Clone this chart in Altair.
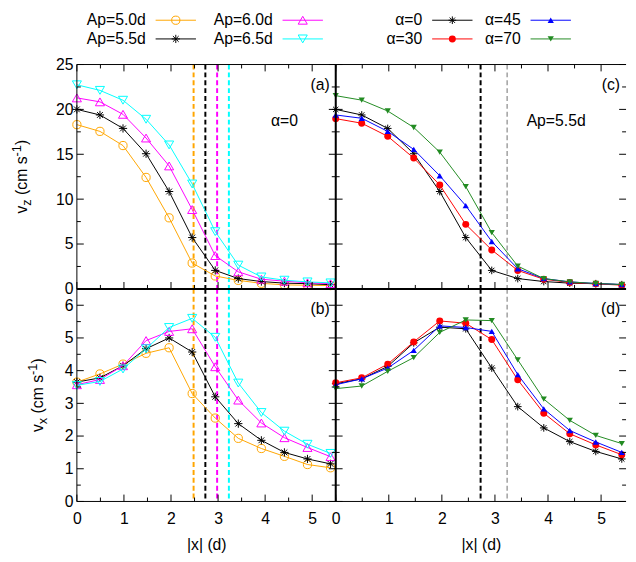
import altair as alt
import pandas as pd

FONT = "Liberation Sans"

# ---------------- data ----------------
x_pos = [0.0, 0.49, 0.98, 1.47, 1.96, 2.45, 2.94, 3.43, 3.92, 4.41, 4.90, 5.39]

ap_names = ["Ap=5.0d", "Ap=5.5d", "Ap=6.0d", "Ap=6.5d"]
ap_colors = ["#ffa500", "#000000", "#ff00ff", "#00ffff"]
ap_vz = [
    [18.30, 17.55, 15.97, 12.42, 7.92, 2.88, 1.44, 0.95, 0.62, 0.45, 0.40, 0.37],
    [20.00, 19.38, 17.88, 15.06, 10.85, 5.72, 2.06, 1.15, 0.82, 0.64, 0.58, 0.47],
    [21.28, 20.84, 19.45, 16.81, 13.70, 8.84, 3.71, 1.90, 1.08, 0.86, 0.68, 0.58],
    [22.74, 22.12, 21.02, 18.90, 16.04, 11.69, 6.38, 2.65, 1.33, 0.97, 0.78, 0.67],
]
ap_vx = [
    [3.65, 3.90, 4.20, 4.53, 4.70, 3.30, 2.55, 1.93, 1.62, 1.38, 1.13, 1.03],
    [3.65, 3.78, 4.15, 4.67, 5.00, 4.57, 3.20, 2.38, 1.87, 1.50, 1.30, 1.15],
    [3.57, 3.73, 4.15, 4.92, 5.20, 5.28, 4.12, 3.10, 2.40, 1.95, 1.65, 1.37],
    [3.55, 3.67, 4.05, 4.67, 5.32, 5.60, 5.02, 3.62, 2.72, 2.15, 1.75, 1.47],
]
ap_edges = [2.48, 2.73, 2.98, 3.23]

alpha_names = ["α=0", "α=30", "α=45", "α=70"]
alpha_colors = ["#000000", "#ff0000", "#0000ff", "#228b22"]
alpha_vz = [
    [20.00, 19.38, 17.88, 15.06, 10.85, 5.72, 2.06, 1.15, 0.82, 0.64, 0.58, 0.47],
    [18.97, 18.46, 17.00, 14.58, 11.58, 7.19, 4.34, 2.06, 1.08, 0.71, 0.56, 0.42],
    [19.38, 19.01, 17.55, 15.54, 12.61, 9.28, 5.28, 2.25, 1.15, 0.78, 0.60, 0.49],
    [21.53, 21.03, 19.82, 17.99, 15.24, 11.40, 6.27, 2.54, 1.15, 0.78, 0.60, 0.49],
]
alpha_vx = [
    [3.60, 3.75, 4.13, 4.85, 5.33, 5.28, 4.08, 2.90, 2.25, 1.83, 1.53, 1.30],
    [3.63, 3.78, 4.20, 4.88, 5.52, 5.45, 4.95, 3.72, 2.70, 2.07, 1.73, 1.43],
    [3.57, 3.75, 4.08, 4.62, 5.37, 5.32, 5.20, 3.88, 2.83, 2.17, 1.82, 1.50],
    [3.45, 3.53, 3.98, 4.40, 5.17, 5.55, 5.53, 4.33, 3.13, 2.48, 2.02, 1.77],
]
alpha_edges = [2.73, 3.23]
alpha_edge_colors = ["#000000", "#a0a0a0"]

x_labels = [0, 1, 2, 3, 4, 5]
x_minor = [0.5, 1.5, 2.5, 3.5, 4.5, 5.5]
vz_major = [0, 5, 10, 15, 20, 25]
vz_minor = [2.5, 7.5, 12.5, 17.5, 22.5]
vx_major = [0, 1, 2, 3, 4, 5, 6]
vx_minor = [0.5, 1.5, 2.5, 3.5, 4.5, 5.5, 6.5]

# ---------------- styles / layout ----------------
STAR = "M-1,0L1,0M0,-1L0,1M-0.7,-0.7L0.7,0.7M-0.7,0.7L0.7,-0.7"
ap_markers = [("circle", False, 70), (STAR, False, 70), ("triangle-up", False, 85), ("triangle-down", False, 85)]
alpha_markers = [(STAR, False, 60), ("circle", True, 50), ("triangle-up", True, 40), ("triangle-down", True, 40)]

LW, RW, H1, H2 = 263, 295, 228, 216
one = pd.DataFrame({"k": [0]})

W_EM = {"v": .5, "z": .5, "x": .5, " ": .278, "(": .333, ")": .333, "c": .5,
        "m": .833, "s": .5, "-": .333, "1": .556}


def text_w(t, size):
    return sum(W_EM.get(ch, .55) for ch in t) * size


def ytitle_layers(sub, base_x, H):
    pieces = [("v", 16, 0, 0), (sub, 13, 4, 0), ("(cm s", 16, 0, 4.4), ("-1", 13, -6, 0), (")", 16, 0, 0)]
    total = sum(text_w(t, s) + g for t, s, _, g in pieces)
    pos = -total / 2
    out = []
    for t, s, shift, gap in pieces:
        pos += gap
        out.append(alt.Chart(one).mark_text(text=t, fontSize=s, angle=270, align="left",
                                            baseline="alphabetic", dx=pos, dy=shift,
                                            font=FONT, color="black")
                   .encode(x=alt.value(base_x), y=alt.value(H / 2)))
        pos += text_w(t, s)
    return out


def panel(W, H, xdom, ydom, vals_list, colors, markers, edges, edge_colors, edge_widths,
          ymaj, ymin, bottom_axis, top_ticks, show_ylabels, frame_sides, tag,
          note=None, note_x=None, legend=None, names=None, ytitle=None):
    xs = alt.Scale(domain=xdom, nice=False, zero=False)
    ys = alt.Scale(domain=ydom, nice=False, zero=False)
    if bottom_axis:
        xaxis = alt.Axis(values=x_labels, ticks=False, domain=False, grid=False, labelFontSize=16,
                         labelPadding=9, labelFlush=False, labelOverlap=False, title="|x| (d)",
                         titleFontSize=16, titleFontWeight="normal", titlePadding=11)
    else:
        xaxis = None
    if show_ylabels:
        yaxis = alt.Axis(values=ymaj, ticks=False, domain=False, grid=False, labelFontSize=16,
                         labelPadding=4, labelFlush=False, labelOverlap=False, title=None)
    else:
        yaxis = None

    def X(f):
        return alt.X(f, scale=xs, axis=xaxis)

    def Y(f):
        return alt.Y(f, scale=ys, axis=yaxis)

    layers = []
    # dashed vertical lines
    for e, c, w in zip(edges, edge_colors, edge_widths):
        layers.append(alt.Chart(pd.DataFrame({"e": [e]}))
                      .mark_rule(color=c, strokeWidth=w, strokeDash=[5, 3]).encode(x=X("e:Q")))
    # series
    for vals, c, (shape, filled, size) in zip(vals_list, colors, markers):
        df = pd.DataFrame({"x": x_pos, "y": vals})
        base = alt.Chart(df)
        layers.append(base.mark_line(color=c, strokeWidth=1).encode(x=X("x:Q"), y=Y("y:Q")))
        layers.append(base.mark_point(shape=shape, filled=filled, size=size, color=c,
                                      strokeWidth=1, opacity=1).encode(x=X("x:Q"), y=Y("y:Q")))
    # inward ticks
    xmax = xdom[1]
    for vals, ln in ((x_labels, 7), (x_minor, 4)):
        v = pd.DataFrame({"t": [t for t in vals if t <= xmax]})
        layers.append(alt.Chart(v).mark_rule(color="black", strokeWidth=1)
                      .encode(x=X("t:Q"), y=alt.value(H), y2=alt.value(H - ln)))
        if top_ticks:
            layers.append(alt.Chart(v).mark_rule(color="black", strokeWidth=1)
                          .encode(x=X("t:Q"), y=alt.value(0), y2=alt.value(ln)))
    for vals, ln in ((ymaj, 7), (ymin, 4)):
        v = pd.DataFrame({"t": vals})
        layers.append(alt.Chart(v).mark_rule(color="black", strokeWidth=1)
                      .encode(y=Y("t:Q"), x=alt.value(0), x2=alt.value(ln)))
        layers.append(alt.Chart(v).mark_rule(color="black", strokeWidth=1)
                      .encode(y=Y("t:Q"), x=alt.value(W), x2=alt.value(W - ln)))
    # frame
    for side, sw in frame_sides:
        if side == "top":
            enc = dict(x=alt.value(0), x2=alt.value(W), y=alt.value(0))
        elif side == "bottom":
            enc = dict(x=alt.value(0), x2=alt.value(W), y=alt.value(H))
        elif side == "left":
            enc = dict(y=alt.value(0), y2=alt.value(H), x=alt.value(0))
        else:
            enc = dict(y=alt.value(0), y2=alt.value(H), x=alt.value(W))
        layers.append(alt.Chart(one).mark_rule(color="black", strokeWidth=sw).encode(**enc))
    # panel tag and note
    layers.append(alt.Chart(one).mark_text(text=tag, align="right", baseline="middle", fontSize=16,
                                           font=FONT, color="black")
                  .encode(x=alt.value(W - 6), y=alt.value(21)))
    if note:
        layers.append(alt.Chart(one).mark_text(text=note, align="center", baseline="middle",
                                               fontSize=16, font=FONT, color="black")
                      .encode(x=alt.value(note_x), y=alt.value(57)))
    # legend (label left of sample, two columns)
    if legend:
        rows_y = [-45, -26]
        for i, (name, c, (shape, filled, size)) in enumerate(zip(names, colors, markers)):
            cx = legend[i // 2]
            ry = rows_y[i % 2]
            layers.append(alt.Chart(one).mark_text(text=name, align="right", baseline="middle",
                                                   fontSize=16, font=FONT, color="black")
                          .encode(x=alt.value(cx), y=alt.value(ry)))
            layers.append(alt.Chart(one).mark_rule(color=c, strokeWidth=1)
                          .encode(x=alt.value(cx + 10), x2=alt.value(cx + 51), y=alt.value(ry)))
            layers.append(alt.Chart(one).mark_point(shape=shape, filled=filled, size=size, color=c,
                                                    strokeWidth=1, opacity=1)
                          .encode(x=alt.value(cx + 30.5), y=alt.value(ry)))
    if ytitle:
        layers += ytitle_layers(ytitle[0], ytitle[1], H)
    return alt.layer(*layers).properties(width=W, height=H)


pa = panel(LW, H1, [0, 5.5], [0, 25], ap_vz, ap_colors, ap_markers, ap_edges, ap_colors, [2] * 4,
           vz_major, vz_minor, False, True, True,
           [("top", 1), ("left", 1), ("right", 1), ("bottom", 1)], "(a)",
           note="α=0", note_x=211, legend=[70, 199], names=ap_names, ytitle=("z", -51))
pc = panel(RW, H1, [0, 5.47], [0, 25], alpha_vz, alpha_colors, alpha_markers, alpha_edges,
           alpha_edge_colors, [2, 1.5], vz_major, vz_minor, False, True, False,
           [("top", 1), ("left", 2), ("bottom", 1)], "(c)",
           note="Ap=5.5d", note_x=224, legend=[88, 188], names=alpha_names)
pb = panel(LW, H2, [0, 5.5], [0, 6.5], ap_vx, ap_colors, ap_markers, ap_edges, ap_colors, [2] * 4,
           vx_major, vx_minor, True, False, True,
           [("top", 2), ("left", 1), ("right", 1), ("bottom", 1)], "(b)",
           ytitle=("x", -34.5))
pd_ = panel(RW, H2, [0, 5.47], [0, 6.5], alpha_vx, alpha_colors, alpha_markers, alpha_edges,
            alpha_edge_colors, [2, 1.5], vx_major, vx_minor, True, False, False,
            [("top", 2), ("left", 2), ("bottom", 1)], "(d)")

chart = (
    alt.concat(pa, pc, pb, pd_, columns=2, spacing=0, bounds="flush", align="each",
               padding={"left": 3, "top": 0, "right": 0, "bottom": 0})
    .configure(font=FONT)
    .configure_view(stroke=None)
    .configure_axis(labelFont=FONT, titleFont=FONT, labelColor="black", titleColor="black")
)

chart.save("out.html", embed_options={"renderer": "svg", "actions": False})
